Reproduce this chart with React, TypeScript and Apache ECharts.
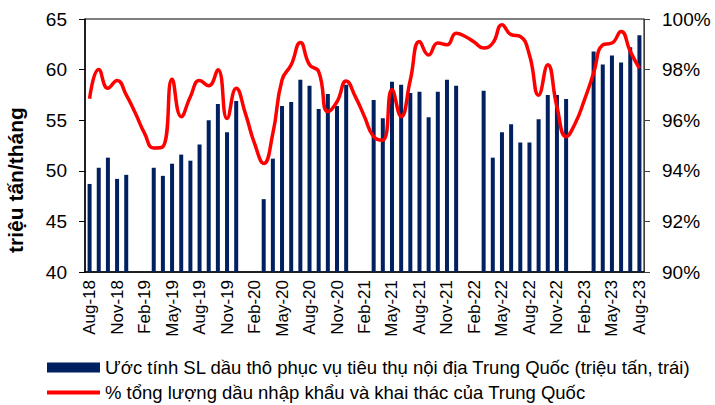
import React, { useEffect, useRef } from "react";
import * as echarts from "echarts";

const months = [
  "Aug-18","Sep-18","Oct-18","Nov-18","Dec-18","Jan-19","Feb-19","Mar-19","Apr-19","May-19","Jun-19","Jul-19",
  "Aug-19","Sep-19","Oct-19","Nov-19","Dec-19","Jan-20","Feb-20","Mar-20","Apr-20","May-20","Jun-20","Jul-20",
  "Aug-20","Sep-20","Oct-20","Nov-20","Dec-20","Jan-21","Feb-21","Mar-21","Apr-21","May-21","Jun-21","Jul-21",
  "Aug-21","Sep-21","Oct-21","Nov-21","Dec-21","Jan-22","Feb-22","Mar-22","Apr-22","May-22","Jun-22","Jul-22",
  "Aug-22","Sep-22","Oct-22","Nov-22","Dec-22","Jan-23","Feb-23","Mar-23","Apr-23","May-23","Jun-23","Jul-23",
  "Aug-23",
];

const consumption = [
  48.7, 50.3, 51.3, 49.2, 49.6, null, null, 50.3, 49.5, 50.7, 51.6, 51.0,
  52.6, 55.0, 56.6, 53.8, 56.9, null, null, 47.2, 51.2, 56.4, 56.8, 59.0,
  58.4, 56.1, 57.6, 56.4, 58.5, null, null, 57.0, 55.2, 58.8, 58.5, 57.7,
  57.8, 55.3, 57.8, 59.0, 58.4, null, null, 57.9, 51.3, 53.8, 54.6, 52.8,
  52.8, 55.1, 57.5, 57.5, 57.1, null, null, 61.8, 60.5, 61.4, 60.7, 62.2,
  63.4,
];

const share = [
  96.85, 98.0, 97.26, 97.57, 97.0, 96.27, 95.48, 94.9, 94.95, 97.62, 96.14, 96.93,
  97.57, 97.36, 97.99, 96.07, 97.26, 96.27, 95.08, 94.29, 95.48, 97.59, 98.19, 99.07,
  98.19, 97.92, 96.34, 96.73, 97.55, 96.93, 96.14, 95.35, 95.21, 97.2, 96.14, 97.59,
  99.11, 98.58, 99.05, 98.98, 99.44, 99.31, 99.08, 98.85, 99.05, 99.77, 99.38, 99.31,
  98.58, 96.99, 98.19, 96.53, 95.35, 95.88, 96.8, 97.86, 98.98, 99.05, 99.51, 98.72,
  98.05,
];

const barName = "Ước tính SL dầu thô phục vụ tiêu thụ nội địa Trung Quốc (triệu tấn, trái)";
const lineName = "% tổng lượng dầu nhập khẩu và khai thác của Trung Quốc";
const leftAxisName = "triệu tấn/tháng";

export default function App() {
  const ref = useRef<HTMLDivElement>(null);
  useEffect(() => {
    if (!ref.current) return;
    const chart = echarts.init(ref.current, null, { renderer: "svg" });
    const font = "Arial, 'Liberation Sans', sans-serif";
    const legendText = { fontFamily: font, fontSize: 18.5, color: "#000" };
    chart.setOption({
      animation: false,
      textStyle: { fontFamily: font, color: "#000" },
      grid: {
        left: 85,
        right: 71,
        top: 19,
        bottom: 133,
        show: true,
        borderColor: "#000",
        borderWidth: 1,
      },
      legend: [
        {
          left: 47,
          top: 356,
          padding: [2, 5, 2, 0],
          itemWidth: 53,
          itemHeight: 10,
          itemGap: 4,
          textStyle: legendText,
          data: [{ name: barName, icon: "rect" }],
        },
        {
          left: 47,
          top: 381,
          padding: [2, 5, 2, 0],
          itemWidth: 53,
          itemHeight: 4,
          itemGap: 4,
          textStyle: legendText,
          data: [{ name: lineName, icon: "rect" }],
        },
      ],
      graphic: [
        {
          type: "text",
          x: 15,
          y: 180,
          rotation: Math.PI / 2,
          style: {
            text: leftAxisName,
            font: "bold 21px Arial, 'Liberation Sans', sans-serif",
            fill: "#000",
            textAlign: "center",
            textVerticalAlign: "middle",
          },
        },
      ],
      xAxis: {
        type: "category",
        data: months,
        boundaryGap: true,
        axisLine: { lineStyle: { color: "#000", width: 1.5 } },
        axisTick: { interval: 2, length: 5, lineStyle: { color: "#000" } },
        axisLabel: {
          interval: 2,
          rotate: 90,
          fontSize: 17,
          color: "#000",
          margin: 8,
          fontFamily: font,
        },
      },
      yAxis: [
        {
          type: "value",
          min: 40,
          max: 65,
          interval: 5,
          splitLine: { show: false },
          axisLine: { show: true, lineStyle: { color: "#000", width: 1.5 } },
          axisTick: { show: true, length: 6, lineStyle: { color: "#000" } },
          axisLabel: { fontSize: 19, color: "#000", margin: 18, fontFamily: font },
        },
        {
          type: "value",
          min: 90,
          max: 100,
          interval: 2,
          position: "right",
          splitLine: { show: false },
          axisLine: { show: true, lineStyle: { color: "#404040", width: 1 } },
          axisTick: { show: true, length: 6, lineStyle: { color: "#404040" } },
          axisLabel: {
            fontSize: 19,
            color: "#000",
            margin: 18,
            fontFamily: font,
            formatter: (v: number) => `${v}%`,
          },
        },
      ],
      series: [
        {
          name: barName,
          type: "bar",
          data: consumption,
          barWidth: 4,
          itemStyle: { color: "#002060" },
          yAxisIndex: 0,
        },
        {
          name: lineName,
          type: "line",
          data: share,
          yAxisIndex: 1,
          smooth: 0.5,
          symbol: "none",
          lineStyle: { color: "#FF0000", width: 3.5 },
          itemStyle: { color: "#FF0000" },
        },
      ],
    });
    return () => chart.dispose();
  }, []);
  return (
    <div
      ref={ref}
      style={{ position: "fixed", left: 0, top: 0, width: 715, height: 405, background: "#fff" }}
    />
  );
}
